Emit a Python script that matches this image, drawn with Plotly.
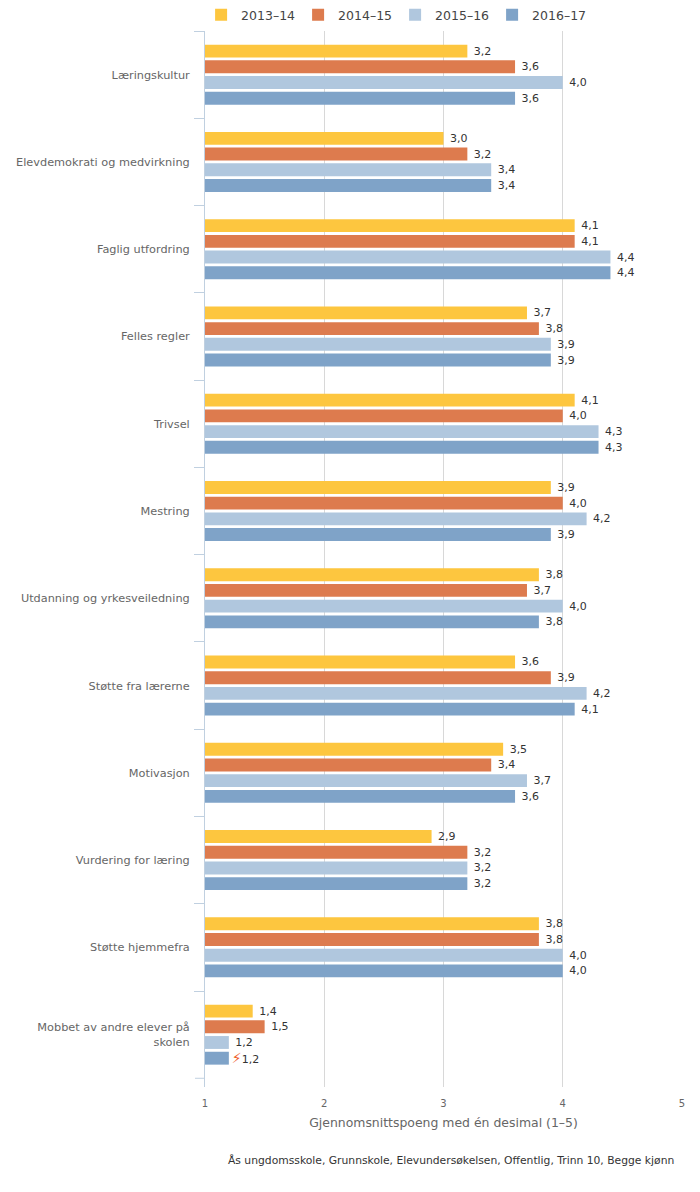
import plotly.graph_objects as go

categories = ["Læringskultur", "Elevdemokrati og medvirkning", "Faglig utfordring", "Felles regler",
              "Trivsel", "Mestring", "Utdanning og yrkesveiledning", "Støtte fra lærerne", "Motivasjon",
              "Vurdering for læring", "Støtte hjemmefra", "Mobbet av andre elever på<br>skolen"]
v1314 = [3.2, 3.0, 4.1, 3.7, 4.1, 3.9, 3.8, 3.6, 3.5, 2.9, 3.8, 1.4]
v1415 = [3.6, 3.2, 4.1, 3.8, 4.0, 4.0, 3.7, 3.9, 3.4, 3.2, 3.8, 1.5]
v1516 = [4.0, 3.4, 4.4, 3.9, 4.3, 4.2, 4.0, 4.2, 3.7, 3.2, 4.0, 1.2]
v1617 = [3.6, 3.4, 4.4, 3.9, 4.3, 3.9, 3.8, 4.1, 3.6, 3.2, 4.0, 1.2]
series = [("2013–14", v1314, "#fdc63f"), ("2014–15", v1415, "#dd7b4e"),
          ("2015–16", v1516, "#b0c7de"), ("2016–17", v1617, "#7fa3c8")]
FONT = "DejaVu Sans"

def fmt(v):
    return "\u00a0" + f"{v:.1f}".replace(".", ",")

fig = go.Figure()
for name, vals, col in series:
    texts = [fmt(v) for v in vals]
    if name == "2016–17":
        texts[-1] = '<span style="color:#f0622d;font-size:14px">⚡</span>' + f"{vals[-1]:.1f}".replace(".", ",")
    fig.add_trace(go.Bar(
        name=name, y=categories, x=[v - 1 for v in vals], base=1, orientation="h",
        marker=dict(color=col, line_width=0),
        text=texts, textposition="outside", cliponaxis=False, constraintext="none",
        textfont=dict(family=FONT, size=11, color="#333333"),
    ))

fig.update_layout(
    width=700, height=1192, barmode="group", bargap=0.28, bargroupgap=0.18,
    margin=dict(l=196.5, r=25.5, t=23, b=113, autoexpand=False), plot_bgcolor="white", paper_bgcolor="white",
    font=dict(family=FONT, color="#666666", size=11), showlegend=True,
    legend=dict(orientation="h", x=0.553, xref="container", xanchor="center", y=0.994, yref="container", yanchor="middle",
                font=dict(size=12.5, color="#444444"), traceorder="normal", itemclick=False,
                entrywidth=52, entrywidthmode="pixels"),
    xaxis=dict(range=[1, 5], tickvals=[1, 2, 3, 4, 5], showgrid=True, gridcolor="#d8d8d8", gridwidth=1,
               zeroline=False, showline=False, ticks="", tickfont=dict(size=10, color="#666666"),
               ticklabelstandoff=9,
               title=dict(text="Gjennomsnittspoeng med én desimal (1–5)", font=dict(size=12.45, color="#666666"), standoff=10)),
    yaxis=dict(type="category", categoryorder="array", categoryarray=categories, range=[11.6, -0.5],
               tickson="boundaries", ticks="outside", ticklen=10, tickcolor="#c0d0e0", tickwidth=1,
               showline=True, linecolor="#c0d0e0", linewidth=1, showgrid=False, zeroline=False,
               ticklabelstandoff=12, tickfont=dict(size=11.3, color="#666666")),
    shapes=[dict(type="line", xref="paper", yref="y", xsizemode="pixel", xanchor=0, x0=-10, x1=0, y0=11.5, y1=11.5,
                 line=dict(color="#c0d0e0", width=1))],
    annotations=[dict(text="Ås ungdomsskole, Grunnskole, Elevundersøkelsen, Offentlig, Trinn 10, Begge kjønn",
                      xref="paper", yref="paper", x=1.0, y=0, xanchor="right", yanchor="middle", yshift=-73,
                      xshift=-6, showarrow=False, font=dict(size=10.75, color="#333333"))],
)
fig.write_html("out.html")
